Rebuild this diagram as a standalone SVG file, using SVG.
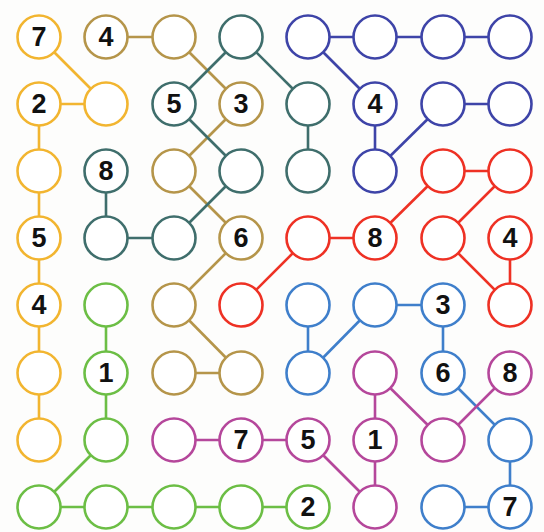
<svg xmlns="http://www.w3.org/2000/svg" width="544" height="532" viewBox="0 0 544 532">
<style>
line{stroke-width:2.6;fill:none}
circle{fill:#fff;stroke-width:2.6}
text{font-family:"Liberation Sans",Arial,sans-serif;font-weight:bold;font-size:27px;fill:#111;text-anchor:middle;dominant-baseline:central}
.y{stroke:#F2B530}.g{stroke:#B5954A}.t{stroke:#3F6E6C}.b{stroke:#3E44A8}.r{stroke:#EE3124}.l{stroke:#3F7FCB}.n{stroke:#6CBE45}.m{stroke:#B5479B}
</style>
<rect width="544" height="532" fill="#fdfdfc"/>
<g id="connectors">
<line class="y" x1="39" y1="37" x2="106" y2="104"/>
<line class="y" x1="39" y1="104" x2="106" y2="104"/>
<line class="y" x1="39" y1="104" x2="39" y2="440"/>
<line class="g" x1="106" y1="37" x2="174" y2="37"/>
<line class="g" x1="174" y1="37" x2="241" y2="104"/>
<line class="g" x1="241" y1="104" x2="174" y2="171"/>
<line class="g" x1="174" y1="171" x2="241" y2="238"/>
<line class="g" x1="241" y1="238" x2="174" y2="305"/>
<line class="g" x1="174" y1="305" x2="241" y2="373"/>
<line class="g" x1="174" y1="373" x2="241" y2="373"/>
<line class="t" x1="241" y1="37" x2="174" y2="104"/>
<line class="t" x1="241" y1="37" x2="308" y2="104"/>
<line class="t" x1="308" y1="104" x2="308" y2="171"/>
<line class="t" x1="174" y1="104" x2="241" y2="171"/>
<line class="t" x1="241" y1="171" x2="174" y2="238"/>
<line class="t" x1="174" y1="238" x2="106" y2="238"/>
<line class="t" x1="106" y1="238" x2="106" y2="171"/>
<line class="b" x1="308" y1="37" x2="510" y2="37"/>
<line class="b" x1="308" y1="37" x2="375" y2="104"/>
<line class="b" x1="375" y1="104" x2="375" y2="171"/>
<line class="b" x1="375" y1="171" x2="443" y2="104"/>
<line class="b" x1="443" y1="104" x2="510" y2="104"/>
<line class="r" x1="443" y1="171" x2="510" y2="171"/>
<line class="r" x1="443" y1="171" x2="375" y2="238"/>
<line class="r" x1="375" y1="238" x2="308" y2="238"/>
<line class="r" x1="308" y1="238" x2="241" y2="305"/>
<line class="r" x1="510" y1="171" x2="443" y2="238"/>
<line class="r" x1="443" y1="238" x2="510" y2="305"/>
<line class="r" x1="510" y1="305" x2="510" y2="238"/>
<line class="l" x1="308" y1="305" x2="308" y2="373"/>
<line class="l" x1="308" y1="373" x2="375" y2="305"/>
<line class="l" x1="375" y1="305" x2="443" y2="305"/>
<line class="l" x1="443" y1="305" x2="443" y2="373"/>
<line class="l" x1="443" y1="373" x2="510" y2="440"/>
<line class="l" x1="510" y1="440" x2="510" y2="507"/>
<line class="l" x1="510" y1="507" x2="443" y2="507"/>
<line class="n" x1="106" y1="305" x2="106" y2="440"/>
<line class="n" x1="106" y1="440" x2="39" y2="507"/>
<line class="n" x1="39" y1="507" x2="308" y2="507"/>
<line class="m" x1="174" y1="440" x2="308" y2="440"/>
<line class="m" x1="308" y1="440" x2="375" y2="507"/>
<line class="m" x1="375" y1="507" x2="375" y2="373"/>
<line class="m" x1="375" y1="373" x2="443" y2="440"/>
<line class="m" x1="443" y1="440" x2="510" y2="373"/>
</g>
<g id="n0-0"><circle class="y" cx="39" cy="37" r="21.5"/><text x="39" y="37">7</text></g>
<g id="n0-1"><circle class="g" cx="106" cy="37" r="21.5"/><text x="106" y="37">4</text></g>
<g id="n0-2"><circle class="g" cx="174" cy="37" r="21.5"/></g>
<g id="n0-3"><circle class="t" cx="241" cy="37" r="21.5"/></g>
<g id="n0-4"><circle class="b" cx="308" cy="37" r="21.5"/></g>
<g id="n0-5"><circle class="b" cx="375" cy="37" r="21.5"/></g>
<g id="n0-6"><circle class="b" cx="443" cy="37" r="21.5"/></g>
<g id="n0-7"><circle class="b" cx="510" cy="37" r="21.5"/></g>
<g id="n1-0"><circle class="y" cx="39" cy="104" r="21.5"/><text x="39" y="104">2</text></g>
<g id="n1-1"><circle class="y" cx="106" cy="104" r="21.5"/></g>
<g id="n1-2"><circle class="t" cx="174" cy="104" r="21.5"/><text x="174" y="104">5</text></g>
<g id="n1-3"><circle class="g" cx="241" cy="104" r="21.5"/><text x="241" y="104">3</text></g>
<g id="n1-4"><circle class="t" cx="308" cy="104" r="21.5"/></g>
<g id="n1-5"><circle class="b" cx="375" cy="104" r="21.5"/><text x="375" y="104">4</text></g>
<g id="n1-6"><circle class="b" cx="443" cy="104" r="21.5"/></g>
<g id="n1-7"><circle class="b" cx="510" cy="104" r="21.5"/></g>
<g id="n2-0"><circle class="y" cx="39" cy="171" r="21.5"/></g>
<g id="n2-1"><circle class="t" cx="106" cy="171" r="21.5"/><text x="106" y="171">8</text></g>
<g id="n2-2"><circle class="g" cx="174" cy="171" r="21.5"/></g>
<g id="n2-3"><circle class="t" cx="241" cy="171" r="21.5"/></g>
<g id="n2-4"><circle class="t" cx="308" cy="171" r="21.5"/></g>
<g id="n2-5"><circle class="b" cx="375" cy="171" r="21.5"/></g>
<g id="n2-6"><circle class="r" cx="443" cy="171" r="21.5"/></g>
<g id="n2-7"><circle class="r" cx="510" cy="171" r="21.5"/></g>
<g id="n3-0"><circle class="y" cx="39" cy="238" r="21.5"/><text x="39" y="238">5</text></g>
<g id="n3-1"><circle class="t" cx="106" cy="238" r="21.5"/></g>
<g id="n3-2"><circle class="t" cx="174" cy="238" r="21.5"/></g>
<g id="n3-3"><circle class="g" cx="241" cy="238" r="21.5"/><text x="241" y="238">6</text></g>
<g id="n3-4"><circle class="r" cx="308" cy="238" r="21.5"/></g>
<g id="n3-5"><circle class="r" cx="375" cy="238" r="21.5"/><text x="375" y="238">8</text></g>
<g id="n3-6"><circle class="r" cx="443" cy="238" r="21.5"/></g>
<g id="n3-7"><circle class="r" cx="510" cy="238" r="21.5"/><text x="510" y="238">4</text></g>
<g id="n4-0"><circle class="y" cx="39" cy="305" r="21.5"/><text x="39" y="305">4</text></g>
<g id="n4-1"><circle class="n" cx="106" cy="305" r="21.5"/></g>
<g id="n4-2"><circle class="g" cx="174" cy="305" r="21.5"/></g>
<g id="n4-3"><circle class="r" cx="241" cy="305" r="21.5"/></g>
<g id="n4-4"><circle class="l" cx="308" cy="305" r="21.5"/></g>
<g id="n4-5"><circle class="l" cx="375" cy="305" r="21.5"/></g>
<g id="n4-6"><circle class="l" cx="443" cy="305" r="21.5"/><text x="443" y="305">3</text></g>
<g id="n4-7"><circle class="r" cx="510" cy="305" r="21.5"/></g>
<g id="n5-0"><circle class="y" cx="39" cy="373" r="21.5"/></g>
<g id="n5-1"><circle class="n" cx="106" cy="373" r="21.5"/><text x="106" y="373">1</text></g>
<g id="n5-2"><circle class="g" cx="174" cy="373" r="21.5"/></g>
<g id="n5-3"><circle class="g" cx="241" cy="373" r="21.5"/></g>
<g id="n5-4"><circle class="l" cx="308" cy="373" r="21.5"/></g>
<g id="n5-5"><circle class="m" cx="375" cy="373" r="21.5"/></g>
<g id="n5-6"><circle class="l" cx="443" cy="373" r="21.5"/><text x="443" y="373">6</text></g>
<g id="n5-7"><circle class="m" cx="510" cy="373" r="21.5"/><text x="510" y="373">8</text></g>
<g id="n6-0"><circle class="y" cx="39" cy="440" r="21.5"/></g>
<g id="n6-1"><circle class="n" cx="106" cy="440" r="21.5"/></g>
<g id="n6-2"><circle class="m" cx="174" cy="440" r="21.5"/></g>
<g id="n6-3"><circle class="m" cx="241" cy="440" r="21.5"/><text x="241" y="440">7</text></g>
<g id="n6-4"><circle class="m" cx="308" cy="440" r="21.5"/><text x="308" y="440">5</text></g>
<g id="n6-5"><circle class="m" cx="375" cy="440" r="21.5"/><text x="375" y="440">1</text></g>
<g id="n6-6"><circle class="m" cx="443" cy="440" r="21.5"/></g>
<g id="n6-7"><circle class="l" cx="510" cy="440" r="21.5"/></g>
<g id="n7-0"><circle class="n" cx="39" cy="507" r="21.5"/></g>
<g id="n7-1"><circle class="n" cx="106" cy="507" r="21.5"/></g>
<g id="n7-2"><circle class="n" cx="174" cy="507" r="21.5"/></g>
<g id="n7-3"><circle class="n" cx="241" cy="507" r="21.5"/></g>
<g id="n7-4"><circle class="n" cx="308" cy="507" r="21.5"/><text x="308" y="507">2</text></g>
<g id="n7-5"><circle class="m" cx="375" cy="507" r="21.5"/></g>
<g id="n7-6"><circle class="l" cx="443" cy="507" r="21.5"/></g>
<g id="n7-7"><circle class="l" cx="510" cy="507" r="21.5"/><text x="510" y="507">7</text></g>
</svg>
